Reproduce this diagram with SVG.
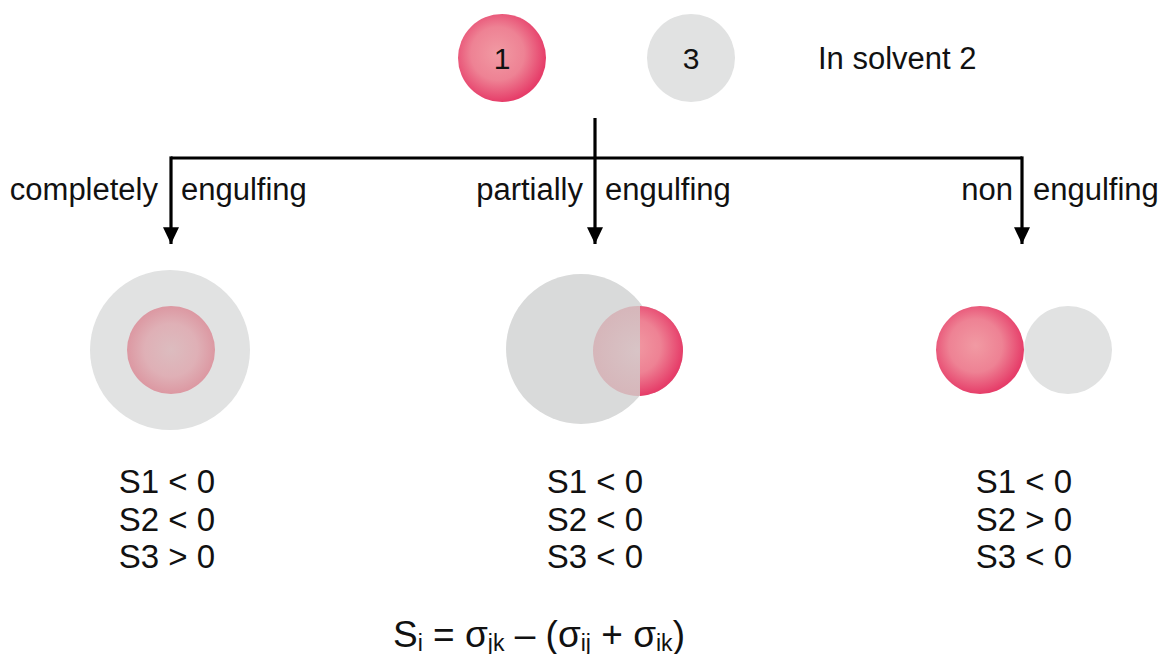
<svg xmlns="http://www.w3.org/2000/svg" width="1162" height="654" viewBox="0 0 1162 654">
<style>
text{font-family:"Liberation Sans",Arial,sans-serif;fill:#111}
.lbl{font-size:31px}
.cond{font-size:33px;text-anchor:middle}
.conn{stroke:#000;stroke-width:3.2;fill:none}
.grey{fill:#e1e2e2}
</style>
<defs>
<radialGradient id="pink" cx="0.45" cy="0.45" r="0.55">
<stop offset="0" stop-color="#f19aa3"/>
<stop offset="0.55" stop-color="#ee8294"/>
<stop offset="1" stop-color="#e63d69"/>
</radialGradient>
<radialGradient id="pinkFade" cx="0.5" cy="0.5" r="0.5">
<stop offset="0" stop-color="#dcbcbf"/>
<stop offset="0.6" stop-color="#dfb0b6"/>
<stop offset="1" stop-color="#dc98a2"/>
</radialGradient>
<radialGradient id="pinkFade2" cx="0.5" cy="0.5" r="0.5">
<stop offset="0" stop-color="#d8c4c6"/>
<stop offset="1" stop-color="#d6b6ba"/>
</radialGradient>
<marker id="arr" markerWidth="6" markerHeight="5" refX="5.2" refY="2.5" orient="auto" markerUnits="strokeWidth">
<path d="M0,0 L5.2,2.5 L0,5 Z" fill="#000"/>
</marker>
<clipPath id="rightHalf"><rect x="640" y="290" width="60" height="120"/></clipPath>
</defs>

<g id="phase1"><circle cx="502" cy="58" r="44" fill="url(#pink)"/><text x="502" y="69" text-anchor="middle" font-size="30">1</text></g>
<g id="phase3"><circle cx="691" cy="58" r="44" class="grey"/><text x="691" y="69" text-anchor="middle" font-size="30">3</text></g>
<g id="solvent"><text class="lbl" x="818" y="69">In solvent 2</text></g>

<g id="connectors">
<line class="conn" x1="595" y1="118" x2="595" y2="158"/>
<polyline class="conn" points="171,158 1022,158"/>
<line class="conn" x1="171" y1="156.4" x2="171" y2="244" marker-end="url(#arr)"/>
<line class="conn" x1="595" y1="158" x2="595" y2="244" marker-end="url(#arr)"/>
<line class="conn" x1="1022" y1="156.4" x2="1022" y2="244" marker-end="url(#arr)"/>
</g>

<g id="label-complete"><text class="lbl" x="158" y="200" text-anchor="end">completely</text><text class="lbl" x="181" y="200">engulfing</text></g>
<g id="label-partial"><text class="lbl" x="583" y="200" text-anchor="end">partially</text><text class="lbl" x="605" y="200">engulfing</text></g>
<g id="label-non"><text class="lbl" x="1013" y="200" text-anchor="end">non</text><text class="lbl" x="1033" y="200">engulfing</text></g>

<g id="complete">
<circle cx="170" cy="350" r="80" class="grey"/>
<circle cx="171" cy="350" r="44" fill="url(#pinkFade)"/>
</g>
<g id="partial">
<circle cx="581" cy="349" r="75" fill="#d9dada"/>
<circle cx="638" cy="351" r="45" fill="url(#pinkFade2)"/>
<circle cx="638" cy="351" r="45" fill="url(#pink)" clip-path="url(#rightHalf)"/>
</g>
<g id="non">
<circle cx="1068" cy="350" r="44" class="grey"/>
<circle cx="980" cy="350" r="44" fill="url(#pink)"/>
</g>

<g id="cond-complete"><text class="cond" x="167" y="493">S1 &lt; 0</text><text class="cond" x="167" y="531">S2 &lt; 0</text><text class="cond" x="167" y="568">S3 &gt; 0</text></g>
<g id="cond-partial"><text class="cond" x="595" y="493">S1 &lt; 0</text><text class="cond" x="595" y="531">S2 &lt; 0</text><text class="cond" x="595" y="568">S3 &lt; 0</text></g>
<g id="cond-non"><text class="cond" x="1024" y="493">S1 &lt; 0</text><text class="cond" x="1024" y="531">S2 &gt; 0</text><text class="cond" x="1024" y="568">S3 &lt; 0</text></g>

<g id="formula"><text x="393" y="647" font-size="37">S<tspan font-size="23" dy="4">i</tspan><tspan dy="-4"> = σ</tspan><tspan font-size="23" dy="4">jk</tspan><tspan dy="-4"> – (σ</tspan><tspan font-size="23" dy="4">ij</tspan><tspan dy="-4"> + σ</tspan><tspan font-size="23" dy="4">ik</tspan><tspan dy="-4">)</tspan></text></g>
</svg>
